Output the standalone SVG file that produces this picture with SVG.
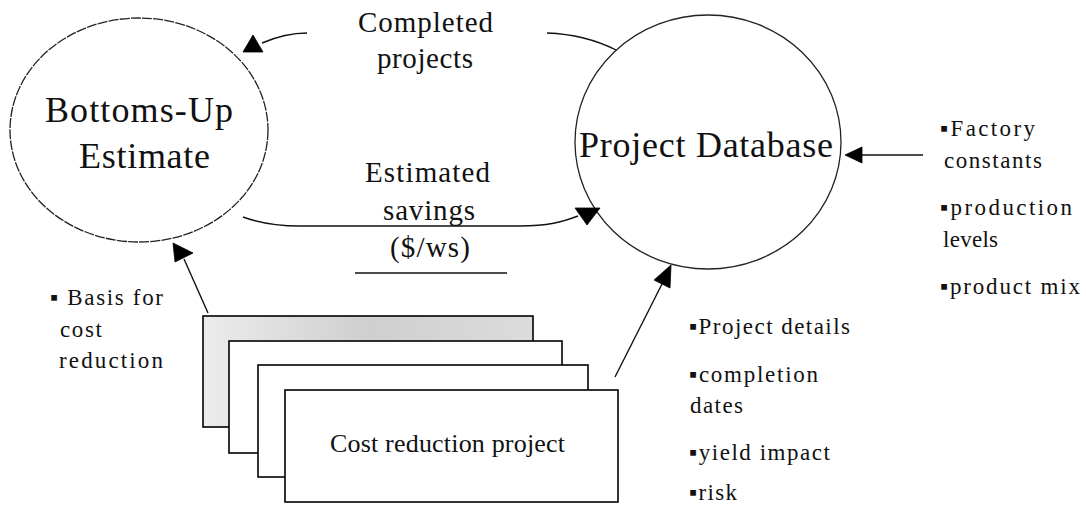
<svg xmlns="http://www.w3.org/2000/svg" width="1086" height="511" viewBox="0 0 1086 511">
<defs>
<style>
.ln{fill:none;stroke:#111;stroke-width:1.4}
.ah{fill:#000;stroke:#000;stroke-width:0.8;stroke-linejoin:round}
.t{font-family:"Liberation Serif","Times New Roman",serif;fill:#111}
.big{font-size:36px}
.mid{font-size:29px}
.cr{font-size:26px}
.sm{font-size:23px}
.card{fill:#fff;stroke:#000;stroke-width:1.6}
.oval{fill:#fff;stroke:#222;stroke-width:1.3}
</style>
<linearGradient id="gray" x1="0" y1="0" x2="1" y2="0">
<stop offset="0" stop-color="#ececec"/>
<stop offset="0.5" stop-color="#cfcfcf"/>
<stop offset="1" stop-color="#dcdcdc"/>
</linearGradient>
</defs>
<rect width="1086" height="511" fill="#fff"/>

<g id="bottoms-up">
<ellipse class="oval" cx="139" cy="130" rx="129" ry="112" stroke-dasharray="10 1.2"/>
<text class="t big" x="45" y="122" textLength="188">Bottoms-Up</text>
<text class="t big" x="79" y="168" textLength="131">Estimate</text>
</g>

<g id="project-database">
<ellipse class="oval" cx="708" cy="142" rx="133" ry="127"/>
<text class="t big" x="579" y="157" textLength="254">Project Database</text>
</g>

<g id="cost-reduction-projects">
<rect x="203" y="316" width="330" height="111" fill="url(#gray)" stroke="#000" stroke-width="1.6"/>
<rect class="card" x="229" y="341" width="333" height="112"/>
<rect class="card" x="258" y="365" width="330" height="112"/>
<rect class="card" x="285" y="390" width="333" height="112"/>
<text class="t cr" x="330" y="452" textLength="235">Cost reduction project</text>
</g>

<g id="label-completed">
<text class="t mid" x="358" y="32" textLength="135">Completed</text>
<text class="t mid" x="377" y="68" textLength="96">projects</text>
</g>

<g id="label-estimated">
<text class="t mid" x="365" y="182" textLength="125">Estimated</text>
<text class="t mid" x="383" y="220" textLength="92">savings</text>
<text class="t mid" x="390" y="257" textLength="80">($/ws)</text>
<line x1="355" y1="273" x2="507" y2="273" stroke="#111" stroke-width="1.6"/>
</g>

<g id="label-basis">
<text class="t sm" x="50" y="305" textLength="113">▪ Basis for</text>
<text class="t sm" x="60" y="337" textLength="42">cost</text>
<text class="t sm" x="59" y="368" textLength="104">reduction</text>
</g>

<g id="label-factory">
<text class="t sm" x="940" y="136" textLength="95">▪Factory</text>
<text class="t sm" x="944" y="168" textLength="98">constants</text>
<text class="t sm" x="940" y="215" textLength="132">▪production</text>
<text class="t sm" x="943" y="247" textLength="55">levels</text>
<text class="t sm" x="940" y="294" textLength="140">▪product mix</text>
</g>

<g id="label-project-details">
<text class="t sm" x="689" y="334" textLength="161">▪Project details</text>
<text class="t sm" x="689" y="382" textLength="129">▪completion</text>
<text class="t sm" x="690" y="413" textLength="53">dates</text>
<text class="t sm" x="689" y="460" textLength="141">▪yield impact</text>
<text class="t sm" x="689" y="500" textLength="48">▪risk</text>
</g>

<g id="connectors">
<path class="ln" d="M616,50 Q585.5,34.5 547,33"/>
<path class="ln" d="M307,33 C290,33 276,37 262,43"/>
<polygon class="ah" points="253,35 243,52 263,52"/>
<path class="ln" d="M243,217 C262,224 280,226 300,226 L520,226 C548,226 562,222 578,216"/>
<polygon class="ah" points="575,208 600,208 587,225"/>
<path class="ln" d="M208,313 L184,259"/>
<polygon class="ah" points="173,243 193,253 175,262"/>
<path class="ln" d="M615,377 L662,284"/>
<polygon class="ah" points="671,265 654,280 670,288"/>
<path class="ln" d="M923,155 L860,155"/>
<polygon class="ah" points="845,155 862,147 862,163"/>
</g>
</svg>
